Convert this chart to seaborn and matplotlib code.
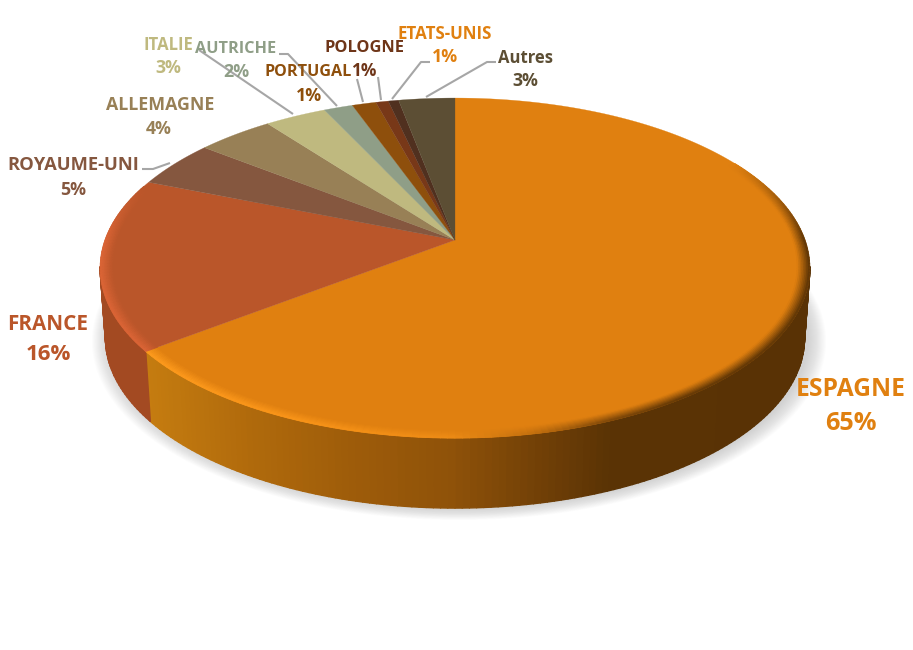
import numpy as np
import matplotlib
matplotlib.use("Agg")
import matplotlib.pyplot as plt
from matplotlib.collections import PolyCollection
from matplotlib.colors import to_rgb
import seaborn as sns

# ---------- data ----------
categories = ["ESPAGNE", "FRANCE", "ROYAUME-UNI", "ALLEMAGNE", "ITALIE",
              "AUTRICHE", "PORTUGAL", "POLOGNE", "ETATS-UNIS", "Autres"]
values = [64.6, 16.4, 4.5, 4.1, 3.3, 1.55, 1.28, 0.67, 0.55, 3.0]
percent_labels = ["65%", "16%", "5%", "4%", "3%", "2%", "1%", "1%", "1%", "3%"]
slice_hex = ["#E08010", "#BA562A", "#85573F", "#988056", "#BFB97F",
             "#8F9E87", "#8E4F0C", "#783818", "#50301F", "#5C4E34"]
label_hex = ["#E08010", "#BA562A", "#85573F", "#988056", "#BFB97F",
             "#8F9E87", "#8E4F0C", "#6E3518", "#E08010", "#5C4E34"]
name_xy = [(851, 390), (48, 325), (73, 165), (160, 105), (168, 45),
           (236, 49), (308, 72), (364, 48), (445, 34), (525, 58)]
pct_xy = [(851, 424), (48, 355), (73, 190), (159, 129), (168, 68),
          (236, 72), (309, 96), (364, 71), (445, 57), (525, 81)]
name_sizes = [17.7, 14.9, 13.2, 12.8, 12.0, 11.7, 11.6, 11.8, 12.2, 12.0]
pct_sizes = [18.2, 16, 12.8, 12.8, 12.8, 12.8, 12.8, 12.4, 12.8, 12.8]
leaders = [
    [(142, 169), (153, 169), (170, 163)],
    [(199, 50), (293, 114)],
    [(279, 54), (288, 54), (337, 106)],
    [(357, 79), (363, 102)],
    [(378, 77), (381, 100)],
    [(430, 62), (421, 62), (392, 99)],
    [(496, 62), (487, 62), (426, 97)],
]

# ---------- projection of the tilted disc ----------
CX, CY, A, B, K, DEPTH = 455.0, 240.0, 350.0, 165.4, 0.165, 70.0


def project(theta_deg, r=1.0, dy=0.0, shrink=1.0):
    t = np.radians(theta_deg)
    u, v = r * np.sin(t), r * np.cos(t)
    d = 1 + K * v
    return CX + shrink * A * u / d, CY - B * v / d + dy


def lerp(c0, c1, t):
    return tuple((1 - t) * np.array(c0) + t * np.array(c1))


sns.set_theme(style="white")
palette = sns.color_palette(slice_hex)
plt.rcParams["font.family"] = ["Open Sans", "DejaVu Sans"]

fig = plt.figure(figsize=(9.13, 6.5), dpi=100, facecolor="white")
ax = fig.add_axes([0, 0, 1, 1])
ax.set_xlim(0, 913)
ax.set_ylim(650, 0)
ax.axis("off")

edges = np.concatenate([[0], np.cumsum(values)])
edges = edges / edges[-1] * 360

# ---------- soft shadow ----------
th = np.linspace(0, 360, 361)
for f in np.linspace(1.05, 1.0, 18):
    x, y = project(th, dy=DEPTH)
    x = CX + 4 + (x - CX) * f * 0.985
    y = CY + 30 + (y - CY - 30) * f
    ax.fill(x, y, color="#909090", alpha=0.022, lw=0, zorder=1)

# ---------- side wall ----------
grad_x = [140, 250, 350, 450, 550, 610, 820]
grad_c = [to_rgb(c) for c in ["#C67D10", "#B06A0C", "#9E5C0A", "#8F5209",
                              "#6E3E06", "#5A3305", "#593205"]]


def wall_color(theta):
    if theta > edges[1]:
        return to_rgb("#A34A22")
    x = project(theta)[0]
    return tuple(np.interp(x, grad_x, [c[i] for c in grad_c]) for i in range(3))


polys, cols = [], []
steps = np.unique(np.r_[np.arange(99.0, 262.0, 1.0), edges[1]])
for a0, a1 in zip(steps[:-1], steps[1:]):
    xa, ya = project(a0)
    xb, yb = project(a1)
    xc, yc = project(a1, dy=DEPTH, shrink=0.985)
    xd, yd = project(a0, dy=DEPTH, shrink=0.985)
    polys.append([(xa, ya), (xb, yb), (xc, yc), (xd, yd)])
    cols.append(wall_color((a0 + a1) / 2))
ax.add_collection(PolyCollection(polys, facecolors=cols, edgecolors=cols,
                                 linewidths=1.0, zorder=2))

# ---------- top slices ----------
for i, c in enumerate(palette):
    t = np.linspace(edges[i], edges[i + 1], max(int(edges[i + 1] - edges[i]) * 2, 4))
    x, y = project(t)
    ax.fill(np.r_[CX, x], np.r_[CY, y], color=c, lw=0.2, zorder=3)

# ---------- bevel on the rim ----------
rim_x = [140, 300, 450, 530, 610, 680, 820]
rim_c = [to_rgb(c) for c in ["#FF9C1E", "#FA9519", "#EE8C16", "#C4700E",
                             "#7A4508", "#5E3505", "#5A3305"]]


def rim_color(theta):
    if theta > edges[1]:
        return to_rgb("#DC6536")
    x = project(theta)[0]
    return tuple(np.interp(x, rim_x, [c[i] for c in rim_c]) for i in range(3))


polys, cols = [], []
radii = np.linspace(0.965, 1.0, 9)
bevel = np.unique(np.r_[np.arange(60.0, 291.0, 1.0), edges[1]])
for a0, a1 in zip(bevel[:-1], bevel[1:]):
    mid = (a0 + a1) / 2
    top = palette[0] if mid < edges[1] else palette[1]
    tgt = rim_color(mid)
    fade = np.clip(min((mid - 60) / 30, (290 - mid) / 20), 0, 1)
    for r0, r1 in zip(radii[:-1], radii[1:]):
        s = (((r0 + r1) / 2 - radii[0]) / (radii[-1] - radii[0])) ** 1.1
        p = [project(a0, r0), project(a1, r0), project(a1, r1), project(a0, r1)]
        polys.append(p)
        cols.append(lerp(top, tgt, s * fade))
ax.add_collection(PolyCollection(polys, facecolors=cols, edgecolors=cols,
                                 linewidths=0.6, zorder=4))

# ---------- leader lines ----------
for pts in leaders:
    xs, ys = zip(*pts)
    ax.plot(xs, ys, color="#A6A6A6", lw=1.5, solid_capstyle="butt", zorder=5)

# ---------- labels ----------
for name, pct, nxy, pxy, col, nfs, pfs in zip(categories, percent_labels, name_xy,
                                              pct_xy, label_hex, name_sizes, pct_sizes):
    ax.text(*nxy, name, color=col, fontsize=nfs, fontweight="bold",
            ha="center", va="center", zorder=6)
    ax.text(*pxy, pct, color=col, fontsize=pfs, fontweight="bold",
            ha="center", va="center", zorder=6)

fig.savefig("out.png", dpi=100, facecolor="white")
